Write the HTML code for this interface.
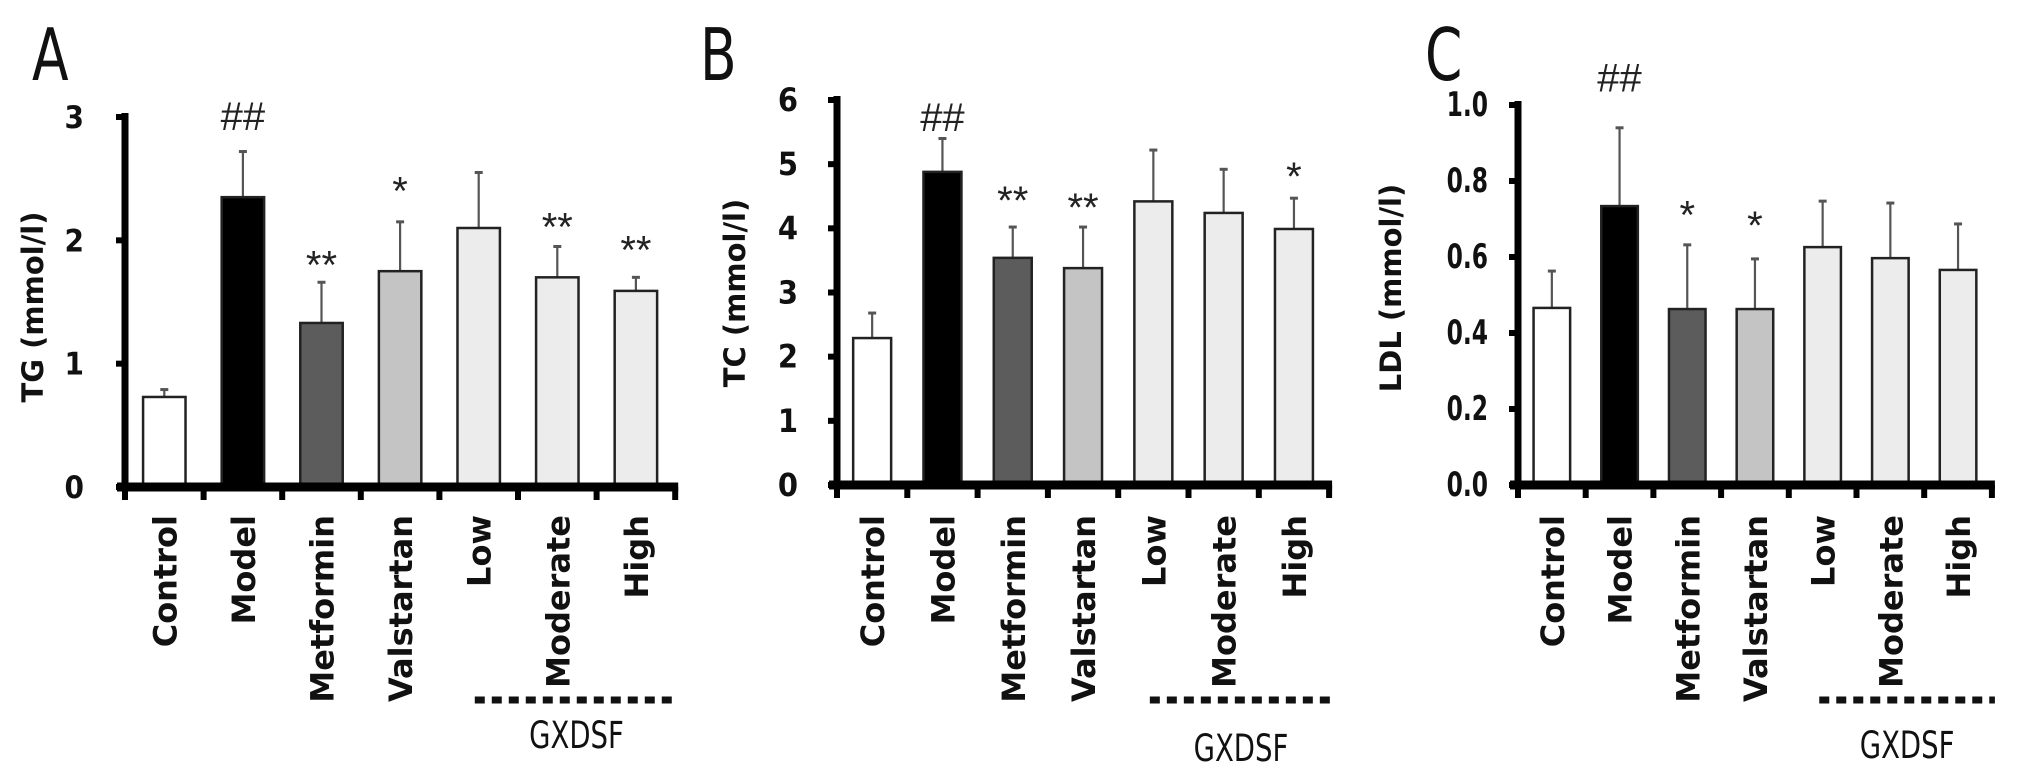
<!DOCTYPE html>
<html><head><meta charset="utf-8"><style>
html,body{margin:0;padding:0;background:#fff;}
svg{display:block;}
</style></head><body>
<svg id="chart" width="2031" height="772" viewBox="0 0 2031 772" xmlns="http://www.w3.org/2000/svg"></svg>
<script>
const categories = ["Control","Model","Metformin","Valstartan","Low","Moderate","High"];
const fills = ["#ffffff","#000000","#5c5c5c","#c4c4c4","#ececec","#ececec","#ececec"];
const tgValues = [0.73,2.35,1.33,1.75,2.10,1.70,1.59];
const tgErrors = [0.06,0.37,0.33,0.40,0.45,0.25,0.11];
const tgMarks = ["","##","**","*","","**","**"];
const tgMarkY = [0,3.00,1.82,2.42,0,2.13,1.94];
const tgTicks = ["0","1","2","3"];
const tcValues = [2.29,4.88,3.54,3.38,4.42,4.24,3.99];
const tcErrors = [0.39,0.52,0.48,0.64,0.80,0.68,0.48];
const tcMarks = ["","##","**","**","","","*"];
const tcMarkY = [0,5.72,4.47,4.36,0,0,4.85];
const tcTicks = ["0","1","2","3","4","5","6"];
const ldlValues = [0.466,0.734,0.463,0.463,0.626,0.597,0.566];
const ldlErrors = [0.097,0.206,0.169,0.132,0.121,0.145,0.121];
const ldlMarks = ["","##","*","*","","",""];
const ldlMarkY = [0,1.07,0.717,0.690,0,0,0];
const ldlTicks = ["0.0","0.2","0.4","0.6","0.8","1.0"];

const NS="http://www.w3.org/2000/svg";
const svg=document.getElementById('chart');
function mk(tag,attrs,parent){const e=document.createElementNS(NS,tag);for(const k in attrs)e.setAttribute(k,attrs[k]);(parent||svg).appendChild(e);return e;}

function panel(p){
  const g=mk('g',{});
  
  
  const yScale=v=>p.y0-(v/p.max)*(p.y0-p.ytop);
  const xCenter=i=>p.x0+(i+0.5)*p.sp;
  const bw=p.sp*0.54;
  const xEnd=p.x0+categories.length*p.sp;
  const L=mk('text',{x:0,y:0,'font-family':'DejaVu Sans Condensed, Liberation Sans Narrow, Liberation Sans, sans-serif','font-size':66,fill:'#111',transform:`translate(${p.letterX},80) scale(0.9,1.1)`},g);
  L.textContent=p.id;
  
  
  categories.forEach((c,i)=>{
    const cx=xCenter(i), top=yScale(p.values[i]), et=yScale(p.values[i]+p.errors[i]);
    const eb=mk('line',{x1:cx,x2:cx,y1:top,y2:et,stroke:'#555','stroke-width':2.2},g);
    
    
    const cap=mk('line',{x1:cx-4,x2:cx+4,y1:et,y2:et,stroke:'#555','stroke-width':3},g);
    
    
    const r=mk('rect',{x:cx-bw/2,y:top,width:bw,height:p.y0-top,fill:fills[i],stroke:'#222','stroke-width':2.5},g);
    
    
    if(p.marks[i]){
      const isHash=p.marks[i][0]=='#';
      const t=mk('text',{x:cx,y:yScale(p.markY[i])+(isHash?13:16),'text-anchor':'middle','font-family':'Liberation Sans, sans-serif','font-size':isHash?40:40,fill:'#222'},g);
      t.textContent=p.marks[i];
      
      
    }
    const lbl=mk('text',{x:0,y:0,'text-anchor':'end','font-family':'DejaVu Sans, sans-serif','font-weight':'bold','font-size':32,fill:'#111',transform:`translate(${cx+12},515) rotate(-90)`},g);
    lbl.textContent=c;
    
    
  });
  const ya=mk('line',{x1:p.x0,x2:p.x0,y1:p.ytop-4,y2:p.y0+4,stroke:'#000','stroke-width':7},g);
  
  
  const xa=mk('line',{x1:p.x0-8,x2:xEnd+3,y1:p.y0,y2:p.y0,stroke:'#000','stroke-width':9},g);
  
  
  for(let i=0;i<=categories.length;i++){
    const tx=p.x0+i*p.sp;
    const t=mk('line',{x1:tx,x2:tx,y1:p.y0,y2:p.y0+13,stroke:'#000','stroke-width':6},g);
    
    
  }
  p.ticks.forEach((tl,i)=>{
    const v=parseFloat(tl), ty=yScale(v);
    const t=mk('line',{x1:p.x0-9,x2:p.x0,y1:ty,y2:ty,stroke:'#000','stroke-width':6},g);
    
    
    const tt=mk('text',{x:0,y:0,'text-anchor':'end','font-family':'DejaVu Sans, sans-serif','font-weight':'bold','font-size':p.tickFont,fill:'#111',transform:`translate(${p.labelRight},${ty+11}) scale(${p.tickSX},1.12)`},g);
    tt.textContent=tl;
    
    
  });
  const yt=mk('text',{x:0,y:0,'text-anchor':'middle','font-family':'DejaVu Sans, sans-serif','font-weight':'bold','font-size':29,fill:'#111',transform:`translate(${p.titleX+10},${p.titleY}) rotate(-90)`},g);
  yt.textContent=p.title;
  
  
  const gx1=p.x0+4.45*p.sp, gx2=xEnd+3;
  const dl=mk('line',{x1:gx1,x2:gx2,y1:700,y2:700,stroke:'#111','stroke-width':7,'stroke-dasharray':'10,7'},g);
  
  
  const gt=mk('text',{x:0,y:0,'text-anchor':'middle','font-family':'DejaVu Sans Condensed, Liberation Sans Narrow, sans-serif','font-size':36,fill:'#111',transform:`translate(${(gx1+gx2)/2},${p.gY+13}) scale(0.85,1.05)`},g);
  gt.textContent='GXDSF';
  
  
}

panel({id:'A',x0:125,sp:78.6,y0:487,ytop:117,max:3,values:tgValues,errors:tgErrors,marks:tgMarks,markY:tgMarkY,ticks:tgTicks,labelRight:84,tickFont:28,tickSX:1,title:'TG (mmol/l)',titleX:33,titleY:307,letterX:32,gY:735});
panel({id:'B',x0:837,sp:70.3,y0:485,ytop:100,max:6,values:tcValues,errors:tcErrors,marks:tcMarks,markY:tcMarkY,ticks:tcTicks,labelRight:798,tickFont:29,tickSX:1,title:'TC (mmol/l)',titleX:735,titleY:293,letterX:700,gY:748});
panel({id:'C',x0:1518,sp:67.7,y0:485,ytop:105,max:1.0,values:ldlValues,errors:ldlErrors,marks:ldlMarks,markY:ldlMarkY,ticks:ldlTicks,labelRight:1488,tickFont:30,tickSX:0.78,title:'LDL (mmol/l)',titleX:1391,titleY:288,letterX:1425,gY:745});
</script>
</body></html>
